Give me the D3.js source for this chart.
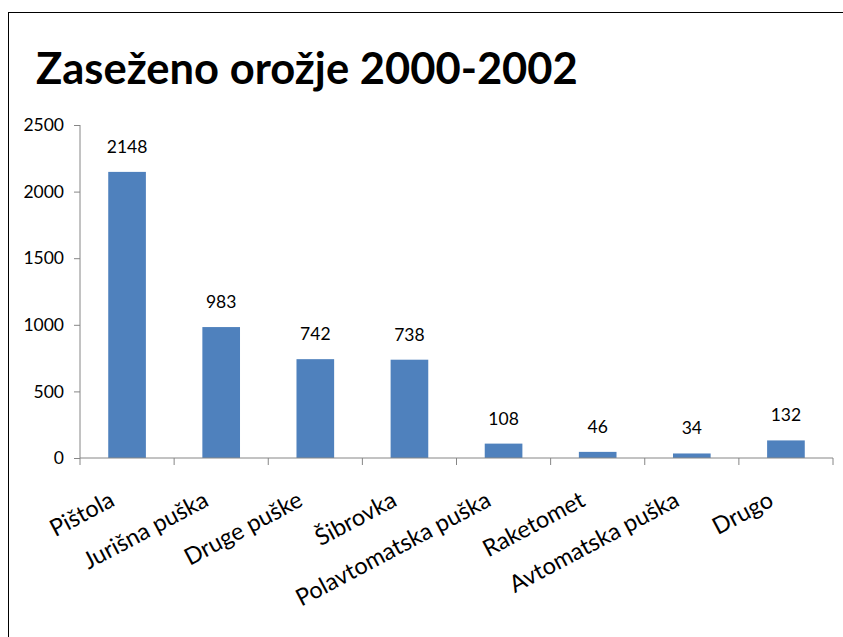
<!DOCTYPE html>
<html><head><meta charset="utf-8">
<script src="https://cdn.jsdelivr.net/npm/d3@7"></script>
<style>
body{margin:0;background:#fff;}
svg{display:block;font-family:Lato, "Open Sans", sans-serif;}
</style></head>
<body>
<svg id="c" width="843" height="637"></svg>
<script>
const categories = ["Pištola","Jurišna puška","Druge puške","Šibrovka","Polavtomatska puška","Raketomet","Avtomatska puška","Drugo"];
const values = [2148, 983, 742, 738, 108, 46, 34, 132];
const yTicks = [0, 500, 1000, 1500, 2000, 2500];
const title = "Zaseženo orožje 2000-2002";

const svg = d3.select("#c");
// chart border (clipped by window at right/bottom)
svg.append("rect").attr("x",8.5).attr("y",12.5).attr("width",900).attr("height",700)
  .attr("fill","none").attr("stroke","#000").attr("stroke-width",1);

const x = d3.scaleBand().domain(categories).range([80, 833]).paddingInner(0.6).paddingOuter(0.3);
const xb = d3.scaleBand().domain(categories).range([80, 833]);
const y = d3.scaleLinear().domain([0, 2500]).range([458, 125]);

const axisColor = "#868686";

// Y axis
const ya = svg.append("g").attr("transform","translate(80,0)")
  .call(d3.axisLeft(y).tickValues(yTicks).tickSize(6).tickPadding(10).tickFormat(d3.format("d")));
ya.select(".domain").attr("stroke",axisColor).attr("d","M0,"+y(0)+"V"+y(2500));
ya.selectAll(".tick line").attr("stroke",axisColor);
ya.selectAll(".tick text").attr("font-size",17.5).attr("fill","#000").attr("font-family","Lato");

// bars
svg.append("g").selectAll("rect").data(values).join("rect")
  .attr("x",(d,i)=>x(categories[i]))
  .attr("y",d=>y(d))
  .attr("width",x.bandwidth())
  .attr("height",d=>y(0)-y(d))
  .attr("fill","#4F81BD");

// value labels
svg.append("g").selectAll("text").data(values).join("text")
  .attr("x",(d,i)=>x(categories[i])+x.bandwidth()/2)
  .attr("y",d=>y(d)-19)
  .attr("text-anchor","middle")
  .attr("font-size",17.5)
  .attr("fill","#000")
  .text(d=>d);

// X axis
const xa = svg.append("g").attr("transform","translate(0,"+y(0)+")");
xa.append("line").attr("x1",80).attr("x2",833).attr("stroke",axisColor);
const bounds = categories.map(c=>xb(c)).concat([833]);
xa.selectAll("line.t").data(bounds).join("line").attr("class","t")
  .attr("x1",d=>d).attr("x2",d=>d).attr("y1",0).attr("y2",7).attr("stroke",axisColor);
xa.selectAll("text").data(categories).join("text")
  .attr("transform",c=>"translate("+(xb(c)+xb.bandwidth()/2-11)+",47) rotate(-28)")
  .attr("text-anchor","end")
  .attr("font-size",23.5)
  .attr("fill","#000")
  .text(c=>c);

// title
const t = svg.append("text").attr("x",0).attr("y",0)
  .attr("font-size",44).attr("font-weight","bold").attr("fill","#000").text(title);
const w = t.node().getComputedTextLength();
t.attr("transform","translate(36,84) scale("+(542/w)+",1)");
</script>
</body></html>
